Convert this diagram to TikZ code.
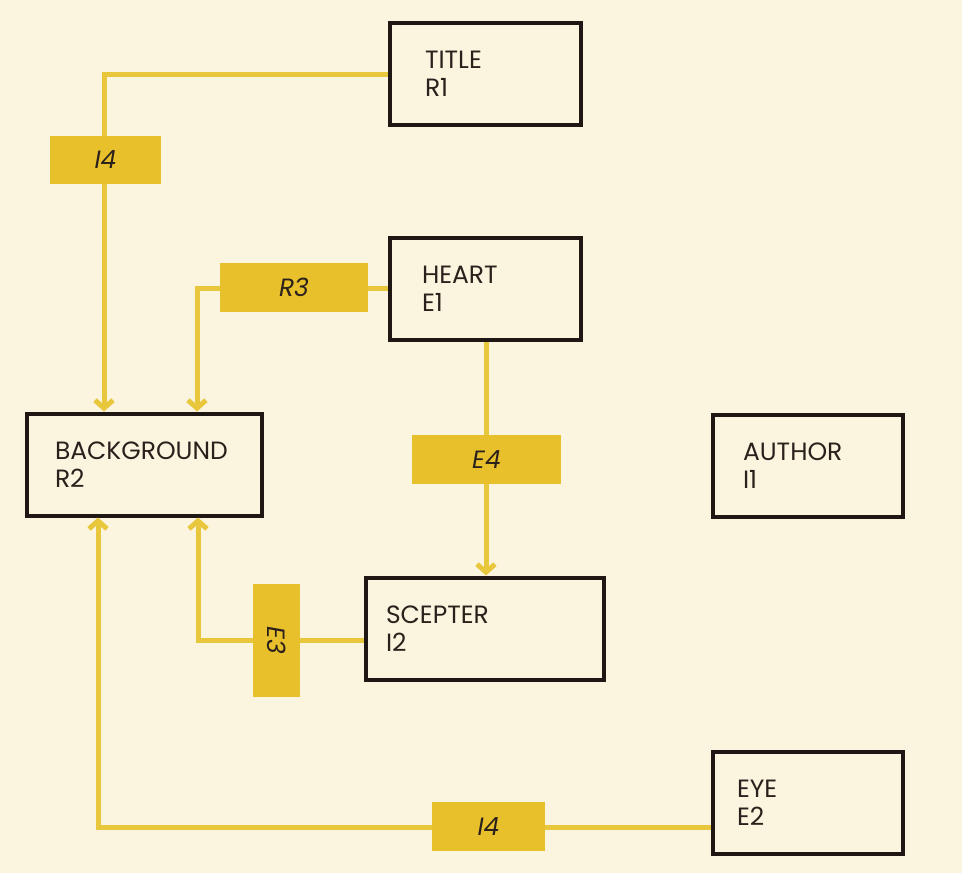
\documentclass[tikz,border=0pt]{standalone}
\usepackage{fontspec}
\setmainfont{Poppins}
\usetikzlibrary{arrows.meta}
\definecolor{bgc}{HTML}{FBF5DF}
\definecolor{linec}{HTML}{E9C73C}
\definecolor{labc}{HTML}{E8C02B}
\definecolor{txtc}{HTML}{2B211C}
\definecolor{boxc}{HTML}{1E1714}
\tikzset{
  entity/.style={draw=boxc, line width=4pt, fill=bgc, text=txtc, align=left,
    minimum height=102pt, font=\fontsize{25}{28}\selectfont, inner ysep=0pt},
  tag/.style={fill=labc, text=txtc, font=\fontsize{25}{28}\itshape\selectfont, inner sep=0pt},
  conn/.style={draw=linec, line width=5pt},
  arr/.style={conn, -{Straight Barb[length=8pt,width=18pt,line width=5pt]}},
}
\begin{document}
\begin{tikzpicture}[x=1pt,y=-1pt]
\fill[bgc] (0,0) rectangle (962,873);
\useasboundingbox (0,0) rectangle (962,873);
% boxes
\node[entity, minimum width=191pt, inner xsep=35pt, text width=121pt] (title) at (485.5,74) {TITLE\\R1};
\node[entity, minimum width=191pt, inner xsep=32pt, text width=127pt] (heart) at (485.5,288.5) {HEART\\E1};
\node[entity, minimum width=235pt, inner xsep=28pt, text width=179pt] (bg) at (144.5,464.5) {BACKGROUND\\R2};
\node[entity, minimum width=190pt, inner xsep=30pt, text width=130pt] (author) at (808,466) {AUTHOR\\I1};
\node[entity, minimum width=238pt, inner xsep=20pt, text width=198pt] (scepter) at (485,628.5) {SCEPTER\\I2};
\node[entity, minimum width=190pt, inner xsep=24pt, text width=142pt] (eye) at (808,802.5) {EYE\\E2};
% positions of connector ends
\coordinate (xa) at (104,0);
\coordinate (xb) at (197,0);
\coordinate (xc) at (198,0);
\coordinate (xd) at (98,0);
\coordinate (xe) at (486,0);
\coordinate (ys) at (0,640);
\coordinate (ye) at (0,827);
% connectors
\draw[arr] (title.west) -| (bg.north -| xa);
\draw[arr] (heart.west) -| (bg.north -| xb);
\draw[arr] (heart.south -| xe) -- (scepter.north -| xe);
\draw[arr] (scepter.west |- ys) -| (bg.south -| xc);
\draw[arr] (eye.west |- ye) -| (bg.south -| xd);
% relation tags
\node[tag, minimum width=111pt, minimum height=48pt] (t1) at (105.5,160) {I4};
\node[tag, minimum width=148pt, minimum height=49pt] (t2) at (294,287.5) {R3};
\node[tag, minimum width=149pt, minimum height=49pt] (t3) at (486.5,459.5) {E4};
\node[tag, minimum width=113pt, minimum height=47pt, rotate=-90] (t4) at (276.5,640.5) {E3};
\node[tag, minimum width=113pt, minimum height=49pt] (t5) at (488.5,826.5) {I4};
\end{tikzpicture}
\end{document}
